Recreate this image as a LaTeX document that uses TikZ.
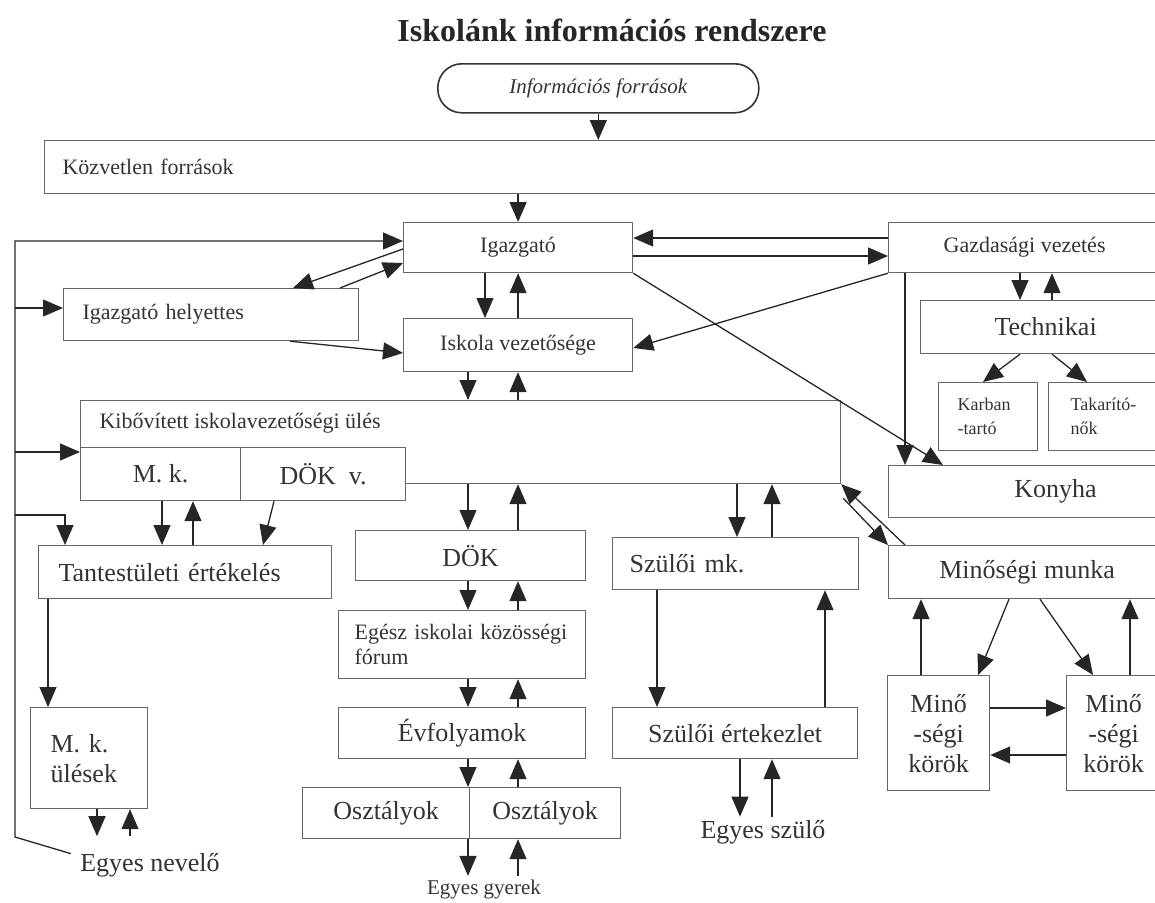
\documentclass[tikz,border=0pt]{standalone}
\usepackage{fontspec}
\setmainfont{Liberation Serif}
\usetikzlibrary{arrows.meta,calc,positioning}

\begin{document}
\begin{tikzpicture}[x=1pt,y=-1pt,
  doboz/.style={draw=black!60, line width=1.2pt, anchor=north west, inner sep=0pt},
  kicsi/.style={text=black!80, font={\fontsize{22pt}{25pt}\selectfont}},
  nagy/.style={text=black!80, font={\fontsize{26pt}{30pt}\selectfont}},
  apro/.style={text=black!80, font={\fontsize{18pt}{24pt}\selectfont}},
  nyil/.style={draw=black!85, line width=1.3pt, -{Triangle[width=17pt,length=20pt]}}
  ]
  \useasboundingbox (0,0) rectangle (1155,902);
  \clip (0,0) rectangle (1155,902);

  % title and sources
  \node[text=black!85, font={\fontsize{32pt}{36pt}\selectfont\bfseries}] (cim) at (612,30) {Iskolánk információs rendszere};
  \node[doboz, draw=black!80, line width=1.6pt, rounded corners=24pt, minimum width=321pt, minimum height=49pt,
    text=black!80, font={\fontsize{21pt}{24pt}\selectfont\itshape}] (info) at (437,63) {Információs források};
  \node[doboz, kicsi, align=left, inner xsep=18pt, text width=1085pt, minimum height=53pt] (kozv) at (44,140) {Közvetlen források};

  % boxes
  \node[doboz, kicsi, minimum width=229pt, minimum height=50pt] (igaz) at (403,222) {Igazgató};
  \node[doboz, kicsi, minimum width=272pt, minimum height=50pt] (gazd) at (888,222) {Gazdasági vezetés};
  \node[doboz, kicsi, align=left, inner xsep=19pt, text width=257pt, minimum height=52pt] (helyettes) at (63,288) {Igazgató helyettes};
  \node[doboz, kicsi, minimum width=229pt, minimum height=53pt] (iskvez) at (403,318) {Iskola vezetősége};
  \node[doboz, nagy, minimum width=250pt, minimum height=53pt] (techn) at (920,300) {Technikai};
  \node[doboz, apro, align=left, inner xsep=19pt, text width=61pt, minimum height=68pt] (karban) at (938,382) {Karban\\-tartó};
  \node[doboz, apro, align=left, inner xsep=22pt, text width=73pt, minimum height=68pt] (takarito) at (1048,382) {Takarító-\\nők};

  \node[doboz, minimum width=760pt, minimum height=83pt] (kib) at (80,400) {};
  \node[kicsi, anchor=west] (kibszoveg) at (96,423) {Kibővített iskolavezetőségi ülés};
  \node[doboz, nagy, fill=white, minimum width=160pt, minimum height=53pt] (mk) at (80,447) {M. k.};
  \node[doboz, nagy, fill=white, minimum width=165pt, minimum height=53pt] (dokv) at (240,447) {DÖK\ \ v.};
  \node[doboz, nagy, minimum width=334pt, minimum height=52pt] (konyha) at (888,465) {Konyha};

  \node[doboz, nagy, align=left, inner xsep=20pt, text width=253pt, minimum height=53pt] (tantest) at (38,545) {Tantestületi értékelés};
  \node[doboz, nagy, minimum width=230pt, minimum height=50pt] (dok) at (355,530) {DÖK};
  \node[doboz, nagy, align=left, inner xsep=17pt, text width=212pt, minimum height=52pt] (szmk) at (612,537) {Szülői mk.};
  \node[doboz, nagy, minimum width=277pt, minimum height=53pt] (minmunka) at (888,545) {Minőségi munka};
  \node[doboz, kicsi, align=left, inner xsep=16pt, text width=215pt, minimum height=68pt] (egesz) at (338,610) {Egész iskolai közösségi\\fórum};

  \node[doboz, nagy, align=left, inner xsep=20pt, text width=77pt, minimum height=101pt] (mkules) at (30,707) {M. k.\\ülések};
  \node[doboz, nagy, minimum width=247pt, minimum height=51pt] (evf) at (338,707) {Évfolyamok};
  \node[doboz, nagy, minimum width=245pt, minimum height=51pt] (szert) at (612,707) {Szülői értekezlet};
  \node[doboz, nagy, align=center, minimum width=102pt, minimum height=115pt] (mino1) at (887,675) {Minő\\-ségi\\körök};
  \node[doboz, nagy, align=center, minimum width=94pt, minimum height=115pt] (mino2) at (1066,675) {Minő\\-ségi\\körök};
  \node[doboz, nagy, minimum width=167pt, minimum height=51pt] (oszt1) at (302,787) {Osztályok};
  \node[doboz, nagy, minimum width=151pt, minimum height=51pt] (oszt2) at (469,787) {Osztályok};

  \node[nagy] (nevelo) at (150,865) {Egyes nevelő};
  \node[text=black!80, font={\fontsize{21pt}{24pt}\selectfont}] (gyerek) at (484,889) {Egyes gyerek};
  \node[nagy] (szulo) at (763,832) {Egyes szülő};

  % top
  \draw[nyil] (info.south) -- (kozv.north -| info.south);
  \draw[nyil] (kozv.south -| igaz.north) -- (igaz.north);

  % left loop
  \coordinate (balfent) at (15,241);
  \coordinate (balalj) at (15,837);
  \draw[nyil] ($(nevelo.north west)+(-6,4)$) -- (balalj) -- (balfent) -- (igaz.west |- balfent);
  \draw[nyil] (balfent |- 0,308) -- (helyettes.west |- 0,308);
  \draw[nyil] (balfent |- 0,452) -- (kib.west |- 0,452);
  \draw[nyil] (balfent |- 0,515) -| ($(tantest.north west)+(27,0)$);

  % director
  \draw[nyil] (gazd.west |- 0,238) -- (igaz.east |- 0,238);
  \draw[nyil] (igaz.east |- 0,256) -- (gazd.west |- 0,256);
  \draw[nyil] (igaz.west |- 0,249) -- (helyettes.north -| 293,0);
  \draw[nyil] (helyettes.north -| 340,0) -- (igaz.west |- 0,263);
  \draw[nyil] (igaz.south -| 485,0) -- (iskvez.north -| 485,0);
  \draw[nyil] (iskvez.north) -- (igaz.south);
  \draw[nyil] (helyettes.south -| 290,0) -- (iskvez.west |- 0,353);
  \draw[nyil] (gazd.south west) -- (iskvez.east |- 0,348);
  \draw[nyil] (igaz.south east) -- (konyha.north -| 943,0);

  % economic side
  \draw[nyil] (gazd.south -| 905,0) -- (konyha.north -| 905,0);
  \draw[nyil] (gazd.south -| 1020,0) -- (techn.north -| 1020,0);
  \draw[nyil] (techn.north -| 1052,0) -- (gazd.south -| 1052,0);
  \draw[nyil] (techn.south -| 1020,0) -- (karban.north -| 983,0);
  \draw[nyil] (techn.south -| 1052,0) -- (takarito.north -| 1087,0);

  % extended meeting
  \draw[nyil] (iskvez.south -| 468,0) -- (kib.north -| 468,0);
  \draw[nyil] (kib.north -| 518,0) -- (iskvez.south -| 518,0);
  \draw[nyil] (kib.south -| 468,0) -- (dok.north -| 468,0);
  \draw[nyil] (dok.north -| 518,0) -- (kib.south -| 518,0);
  \draw[nyil] (kib.south -| 737,0) -- (szmk.north -| 737,0);
  \draw[nyil] (szmk.north -| 772,0) -- (kib.south -| 772,0);
  \draw[nyil] ($(minmunka.north west)+(17,0)$) -- (kib.south east);
  \draw[nyil] ($(kib.south east)+(2,14)$) -- (minmunka.north west);
  \draw[nyil] (mk.south -| 162,0) -- (tantest.north -| 162,0);
  \draw[nyil] (tantest.north -| 193,0) -- (mk.south -| 193,0);
  \draw[nyil] (dokv.south -| 274,0) -- (tantest.north -| 263,0);

  % teachers
  \draw[nyil] (tantest.south -| 48,0) -- (mkules.north -| 48,0);
  \draw[nyil] (mkules.south -| 97,0) -- ++(0,27);
  \draw[nyil] ($(mkules.south -| 130,0)+(0,27)$) -- (mkules.south -| 130,0);

  % students
  \draw[nyil] (dok.south -| 468,0) -- (egesz.north -| 468,0);
  \draw[nyil] (egesz.north -| 518,0) -- (dok.south -| 518,0);
  \draw[nyil] (egesz.south -| 468,0) -- (evf.north -| 468,0);
  \draw[nyil] (evf.north -| 518,0) -- (egesz.south -| 518,0);
  \draw[nyil] (evf.south -| 468,0) -- (oszt1.north -| 468,0);
  \draw[nyil] (oszt2.north -| 518,0) -- (evf.south -| 518,0);
  \draw[nyil] (oszt1.south -| 468,0) -- (gyerek.north -| 468,0);
  \draw[nyil] (gyerek.north -| 518,0) -- (oszt2.south -| 518,0);

  % parents
  \draw[nyil] (szmk.south -| 657,0) -- (szert.north -| 657,0);
  \draw[nyil] (szert.north -| 825,0) -- (szmk.south -| 825,0);
  \draw[nyil] (szert.south -| 740,0) -- (szulo.north -| 740,0);
  \draw[nyil] (szulo.north -| 772,0) -- (szert.south -| 772,0);

  % quality circles
  \draw[nyil] (minmunka.south -| 1009,0) -- (mino1.north -| 978,0);
  \draw[nyil] (minmunka.south -| 1040,0) -- (mino2.north -| 1093,0);
  \draw[nyil] (mino1.north -| 921,0) -- (minmunka.south -| 921,0);
  \draw[nyil] (mino2.north -| 1130,0) -- (minmunka.south -| 1130,0);
  \draw[nyil] (mino1.east |- 0,708) -- (mino2.west |- 0,708);
  \draw[nyil] (mino2.west |- 0,755) -- (mino1.east |- 0,755);
\end{tikzpicture}
\end{document}
